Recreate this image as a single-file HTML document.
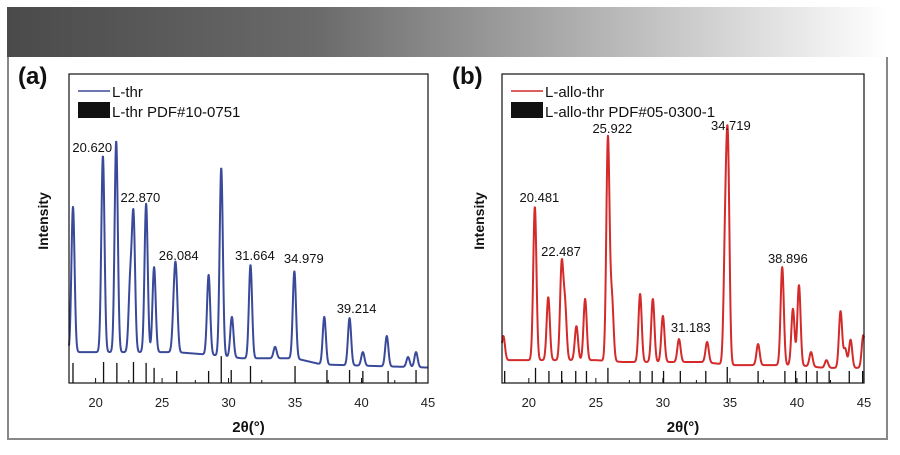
<!DOCTYPE html>
<html><head><meta charset="utf-8"><style>
body{margin:0;background:#fff;width:900px;height:450px;overflow:hidden;font-family:"Liberation Sans",sans-serif}
</style></head><body>
<svg width="900" height="450" viewBox="0 0 900 450" xmlns="http://www.w3.org/2000/svg" font-family="Liberation Sans, sans-serif">
<defs><linearGradient id="bg" x1="0" x2="1" y1="0" y2="0"><stop offset="0" stop-color="#4a4a4a"/><stop offset="0.35" stop-color="#6a6a6a"/><stop offset="1" stop-color="#ffffff"/></linearGradient></defs>
<rect x="7" y="7" width="880" height="50" fill="url(#bg)"/>
<path d="M8 57 V439 H887 V57" fill="none" stroke="#888" stroke-width="2"/>
<g id="chartA"></g>
<g id="chartB"></g>
</svg>
<script>
// ---- Panel A data (L-thr) ----
const aBaseX = [18, 20, 26, 29, 31, 35, 37, 45];
const aBaseY = [10, 10, 10, 9, 8, 8, 6, 5];
const aPeakPos = [18.3, 20.55, 21.55, 22.6, 22.85, 23.8, 24.4, 25.9, 26.05, 28.5, 29.45, 30.25, 31.65, 33.5, 34.95, 37.2, 39.1, 40.1, 41.9, 43.5, 44.1];
const aPeakTop = [57, 73.5, 78.3, 36.6, 56, 58, 37.5, 33, 37.9, 35, 69.6, 21.4, 38.2, 11.7, 36.2, 21.4, 21, 10, 15.2, 8.4, 10];
const aStickPos = [18.3, 20.6, 21.6, 22.85, 23.8, 24.4, 26.1, 28.5, 29.45, 30.2, 31.65, 35.0, 37.4, 39.1, 40.1, 42.0, 44.1];
const aStickH = [6.5, 6.8, 6.5, 6.8, 6.5, 4.9, 3.9, 3.9, 8.7, 4.2, 5.5, 5.5, 4.2, 4.2, 3.9, 3.9, 4.2];
const aLabelText = ["20.620", "22.870", "26.084", "31.664", "34.979", "39.214"];
const aLabelX = [19.75, 23.37, 26.25, 31.98, 35.66, 39.63];
const aLabelY = [76.4, 60.2, 41.4, 41.4, 40.5, 24.3];
// ---- Panel B data (L-allo-thr) ----
const bBaseX = [18, 25, 27, 33, 35, 40, 42, 45];
const bBaseY = [7.4, 7.4, 6.8, 6.8, 5.8, 5.8, 4.9, 4.9];
const bPeakPos = [18.1, 20.45, 21.45, 22.45, 22.7, 23.55, 24.2, 25.9, 26.2, 28.3, 29.25, 30.0, 31.2, 33.3, 34.65, 34.85, 37.1, 38.9, 39.7, 40.15, 41.05, 42.2, 43.25, 43.6, 44.0, 44.95];
const bPeakTop = [15.2, 57, 27.8, 39.8, 28, 18.4, 27.2, 80, 30, 28.8, 27.2, 21.7, 14.2, 13.3, 60, 81, 12.6, 37.5, 24, 31.7, 10, 7.4, 23.3, 11.3, 14, 15.5];
const bStickPos = [18.2, 20.5, 21.5, 22.45, 23.5, 24.3, 25.9, 28.3, 29.2, 30.05, 31.3, 33.2, 34.8, 37.1, 39.1, 39.9, 40.7, 41.5, 42.4, 43.9, 44.9];
const bStickH = [3.9, 4.9, 3.9, 3.9, 3.9, 3.9, 4.9, 3.9, 3.9, 3.9, 3.9, 3.9, 5.2, 3.9, 3.9, 3.9, 3.9, 3.9, 3.9, 3.9, 3.9];
const bLabelText = ["20.481", "22.487", "25.922", "31.183", "34.719", "38.896"];
const bLabelX = [20.79, 22.40, 26.23, 32.08, 35.07, 39.32];
const bLabelY = [60.2, 42.7, 82.5, 18.1, 83.5, 40.5];
const xTicks = [20, 25, 30, 35, 40, 45];

const NS = "http://www.w3.org/2000/svg";
const SIG = 0.12;
function mk(parent, tag, attrs, text) {
  const e = document.createElementNS(NS, tag);
  for (const k in attrs) e.setAttribute(k, attrs[k]);
  if (text !== undefined) e.textContent = text;
  parent.appendChild(e);
  return e;
}
function interp(xs, ys, x) {
  if (x <= xs[0]) return ys[0];
  for (let i = 1; i < xs.length; i++) if (x <= xs[i]) { const t = (x - xs[i-1]) / (xs[i] - xs[i-1]); return ys[i-1] + t * (ys[i] - ys[i-1]); }
  return ys[ys.length - 1];
}
const gauss = dx => Math.exp(-0.5 * (dx / SIG) * (dx / SIG));
function solveAmps(pp, pt, bx, by) {
  const target = pp.map((p, i) => pt[i] - interp(bx, by, p));
  const a = target.slice();
  for (let it = 0; it < 60; it++) {
    for (let i = 0; i < pp.length; i++) {
      let s = 0;
      for (let j = 0; j < pp.length; j++) if (j !== i) s += a[j] * gauss(pp[i] - pp[j]);
      a[i] = Math.max(0, target[i] - s);
    }
  }
  return a;
}
function draw(g, cfg) {
  const X0 = cfg.x0, X1 = cfg.x1, Y0 = 74, Y1 = 383;
  const sx = d => X0 + (d - 18) / 27 * (X1 - X0);
  const sy = v => Y1 - v / 100 * (Y1 - Y0);
  const lt = mk(g, "text", {x: cfg.letterX, y: 84, "font-size": 24, "font-weight": "bold", fill: "#111"}, cfg.letter);
  
  
  const amps = solveAmps(cfg.pp, cfg.pt, cfg.bx, cfg.by);
  let d = "";
  for (let x = 18; x <= 45.0001; x += 0.02) {
    let v = interp(cfg.bx, cfg.by, x);
    for (let i = 0; i < cfg.pp.length; i++) v += amps[i] * gauss(x - cfg.pp[i]);
    d += (d ? "L" : "M") + sx(x).toFixed(2) + " " + sy(Math.min(v, 100)).toFixed(2);
  }
  const line = mk(g, "path", {d: d, fill: "none", stroke: cfg.color, "stroke-width": 2, "stroke-linejoin": "round"});
  
  
  for (let i = 0; i < cfg.sp.length; i++) {
    const s = mk(g, "line", {x1: sx(cfg.sp[i]), x2: sx(cfg.sp[i]), y1: Y1, y2: sy(cfg.sh[i]), stroke: "#111", "stroke-width": 1.3});
    
    
  }
  const fr = mk(g, "rect", {x: X0, y: Y0, width: X1 - X0, height: Y1 - Y0, fill: "none", stroke: "#111", "stroke-width": 1.2});
  
  
  for (let t = 20; t <= 45; t += 2.5) {
    const major = Number.isInteger(t / 5);
    const tk = mk(g, "line", {x1: sx(t), x2: sx(t), y1: Y1, y2: Y1 - (major ? 5 : 3), stroke: "#111", "stroke-width": 1});
    
    
  }
  xTicks.forEach(t => {
    const tl = mk(g, "text", {x: sx(t), y: 407, "font-size": 13, "text-anchor": "middle", fill: "#222"}, String(t));
    
    
  });
  const xt = mk(g, "text", {x: (X0 + X1) / 2, y: 432, "font-size": 15, "font-weight": "bold", "text-anchor": "middle", fill: "#111"}, "2θ(°)");
  
  
  const yt = mk(g, "text", {x: 0, y: 0, "font-size": 14, "font-weight": "bold", "text-anchor": "middle", fill: "#111", transform: `translate(${cfg.ytX},221) rotate(-90)`}, "Intensity");
  
  
  for (let i = 0; i < cfg.lt.length; i++) {
    const pl = mk(g, "text", {x: sx(cfg.lx[i]), y: sy(cfg.ly[i]) + 5, "font-size": 13, "text-anchor": "middle", fill: "#111"}, cfg.lt[i]);
    
    
  }
  const lx = X0 + 9;
  const l1 = mk(g, "line", {x1: lx, x2: lx + 32, y1: 91, y2: 91, stroke: cfg.color, "stroke-width": 1.6});
  
  
  const t1 = mk(g, "text", {x: lx + 34, y: 97, "font-size": 15, fill: "#111"}, cfg.name);
  
  
  const r2 = mk(g, "rect", {x: lx, y: 102, width: 32, height: 16, fill: "#111"});
  
  
  const t2 = mk(g, "text", {x: lx + 34, y: 117, "font-size": 15, fill: "#111"}, cfg.ref);
  
  
}
draw(document.getElementById("chartA"), {x0: 69, x1: 428, letter: "(a)", letterX: 18, ytX: 48, color: "#3a4a9a",
  bx: aBaseX, by: aBaseY, pp: aPeakPos, pt: aPeakTop, sp: aStickPos, sh: aStickH, lt: aLabelText, lx: aLabelX, ly: aLabelY,
  name: "L-thr", ref: "L-thr PDF#10-0751"});
draw(document.getElementById("chartB"), {x0: 502, x1: 864, letter: "(b)", letterX: 452, ytX: 484, color: "#d42a2a",
  bx: bBaseX, by: bBaseY, pp: bPeakPos, pt: bPeakTop, sp: bStickPos, sh: bStickH, lt: bLabelText, lx: bLabelX, ly: bLabelY,
  name: "L-allo-thr", ref: "L-allo-thr PDF#05-0300-1"});
</script>
</body></html>
